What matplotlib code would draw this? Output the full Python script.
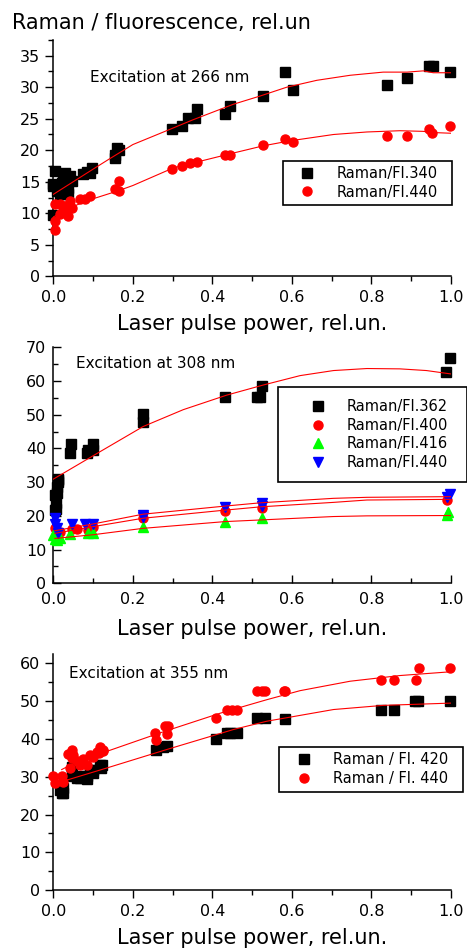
import matplotlib
matplotlib.use("Agg")
import matplotlib.pyplot as plt
from matplotlib.ticker import MultipleLocator

plt.rcParams['font.family'] = ['DejaVu Sans']

# --- panel 1: excitation at 266 nm ---
p1_fl340_x = [0.0, 0.004, 0.0, 0.0, 0.01, 0.017, 0.021, 0.025, 0.03, 0.038, 0.038, 0.042, 0.046,
              0.075, 0.085, 0.092, 0.097, 0.155, 0.155, 0.161, 0.164, 0.298, 0.324, 0.338, 0.357,
              0.361, 0.433, 0.445, 0.528, 0.583, 0.602, 0.839, 0.891, 0.945, 0.956, 0.998]
p1_fl340_y = [9.8, 16.7, 14.6, 14.3, 13.5, 13.0, 14.8, 15.8, 16.4, 14.0, 13.0, 15.9, 15.1,
              16.2, 16.5, 16.4, 17.2, 18.8, 19.3, 20.4, 20.1, 23.3, 23.9, 25.1, 25.1,
              26.5, 25.7, 27.0, 28.6, 32.4, 29.6, 30.4, 31.4, 33.4, 33.4, 32.4]
p1_fl440_x = [0.004, 0.004, 0.004, 0.017, 0.017, 0.025, 0.03, 0.034, 0.038, 0.042, 0.046,
              0.067, 0.08, 0.092, 0.155, 0.164, 0.164, 0.298, 0.323, 0.344, 0.361, 0.433,
              0.445, 0.528, 0.583, 0.602, 0.839, 0.891, 0.945, 0.954, 0.998]
p1_fl440_y = [11.4, 8.7, 7.4, 11.4, 9.9, 10.3, 11.1, 10.8, 9.5, 11.9, 10.8,
              12.2, 12.3, 12.7, 13.8, 13.6, 15.1, 17.1, 17.5, 18.0, 18.1, 19.3,
              19.3, 20.8, 21.8, 21.3, 22.3, 22.3, 23.3, 22.8, 23.9]
p1_fit340_x = [0.0, 0.05, 0.1, 0.143, 0.2, 0.285, 0.35, 0.453, 0.52, 0.587, 0.663, 0.747,
               0.83, 0.89, 0.931, 0.956, 1.0]
p1_fit340_y = [13.0, 15.0, 17.0, 18.7, 20.9, 23.1, 24.8, 27.3, 28.6, 30.0, 31.1, 31.9,
               32.4, 32.4, 32.6, 32.3, 32.3]
p1_fit440_x = [0.0, 0.02, 0.05, 0.1, 0.16, 0.2, 0.302, 0.436, 0.528, 0.596, 0.705, 0.789,
               0.872, 0.93, 0.96, 1.0]
p1_fit440_y = [9.4, 10.2, 11.1, 12.3, 13.5, 14.4, 17.2, 19.3, 20.7, 21.5, 22.5, 22.9,
               23.1, 23.0, 22.8, 22.7]

# --- panel 2: excitation at 308 nm ---
p2_fl362_x = [0.004, 0.004, 0.006, 0.007, 0.008, 0.010, 0.013, 0.013, 0.013, 0.042, 0.044,
              0.084, 0.086, 0.101, 0.101, 0.225, 0.226, 0.432, 0.512, 0.520, 0.524, 0.988, 0.998]
p2_fl362_y = [21.7, 26.2, 23.8, 22.0, 26.7, 28.7, 30.1, 30.6, 31.0, 38.6, 41.2,
              38.6, 39.5, 41.2, 39.5, 47.9, 50.1, 55.4, 55.4, 55.4, 58.6, 62.6, 66.7]
p2_fl400_x = [0.004, 0.013, 0.017, 0.046, 0.059, 0.086, 0.101, 0.226, 0.432, 0.524, 0.99]
p2_fl400_y = [16.3, 15.0, 15.3, 16.0, 16.0, 15.9, 16.8, 19.3, 21.5, 22.4, 24.7]
p2_fl416_x = [0.0, 0.004, 0.008, 0.017, 0.042, 0.086, 0.101, 0.226, 0.432, 0.524, 0.99, 0.994]
p2_fl416_y = [14.2, 13.0, 12.8, 13.3, 14.6, 14.8, 14.8, 16.8, 18.3, 19.3, 20.2, 21.1]
p2_fl440_x = [0.004, 0.004, 0.008, 0.013, 0.046, 0.08, 0.101, 0.226, 0.226, 0.432, 0.524,
              0.524, 0.99, 0.998]
p2_fl440_y = [19.3, 17.6, 16.3, 14.8, 17.6, 17.6, 17.5, 20.3, 19.8, 22.7, 23.7,
              22.8, 25.5, 26.5]
p2_fit362_x = [0.0, 0.117, 0.226, 0.327, 0.436, 0.528, 0.621, 0.705, 0.789, 0.872, 0.939, 1.0]
p2_fit362_y = [30.9, 39.0, 46.5, 51.5, 55.8, 58.8, 61.6, 63.1, 63.7, 63.6, 63.1, 62.1]
p2_fit_x = [0.004, 0.1, 0.226, 0.432, 0.524, 0.705, 0.789, 1.0]
p2_fit400_y = [14.8, 16.8, 19.3, 21.7, 22.7, 24.0, 24.7, 24.9]
p2_fit416_y = [13.3, 14.4, 16.3, 18.3, 18.8, 19.8, 20.0, 20.1]
p2_fit440_y = [15.6, 17.6, 20.5, 22.9, 23.9, 25.2, 25.5, 25.7]

# --- panel 3: excitation at 355 nm ---
p3_fl420_x = [0.017, 0.021, 0.025, 0.025, 0.046, 0.046, 0.059, 0.067, 0.067, 0.084, 0.084,
              0.092, 0.1, 0.101, 0.117, 0.12, 0.122, 0.258, 0.277, 0.285, 0.409, 0.437,
              0.445, 0.461, 0.512, 0.533, 0.583, 0.824, 0.857, 0.91, 0.918, 0.998]
p3_fl420_y = [26.5, 25.7, 27.0, 25.7, 32.7, 30.1, 29.6, 29.6, 30.1, 30.1, 29.5,
              31.9, 31.0, 31.9, 33.2, 32.3, 33.2, 37.2, 38.0, 38.2, 40.0, 41.6,
              41.6, 41.6, 45.6, 45.6, 45.4, 47.6, 47.6, 50.0, 50.0, 50.0]
p3_fl440_x = [0.0, 0.004, 0.021, 0.025, 0.038, 0.042, 0.046, 0.046, 0.05, 0.059, 0.067,
              0.071, 0.075, 0.084, 0.092, 0.097, 0.1, 0.11, 0.114, 0.117, 0.125, 0.126,
              0.256, 0.258, 0.282, 0.285, 0.288, 0.409, 0.437, 0.45, 0.461, 0.512, 0.524,
              0.533, 0.58, 0.583, 0.824, 0.857, 0.913, 0.921, 0.998]
p3_fl440_y = [30.1, 28.3, 30.1, 28.7, 36.0, 32.3, 35.0, 37.2, 35.8, 34.1, 33.2,
              34.1, 34.7, 33.0, 35.8, 35.4, 35.2, 36.5, 36.3, 38.0, 37.0, 36.7,
              41.6, 39.8, 43.4, 41.3, 43.4, 45.6, 47.6, 47.6, 47.6, 52.6, 52.6,
              52.6, 52.8, 52.8, 55.6, 55.6, 55.6, 58.9, 58.9]
p3_fit420_x = [0.021, 0.134, 0.285, 0.453, 0.537, 0.705, 0.83, 1.0]
p3_fit420_y = [28.7, 32.3, 37.2, 42.5, 44.7, 47.8, 48.9, 49.5]
p3_fit440_x = [0.021, 0.06, 0.134, 0.268, 0.419, 0.537, 0.621, 0.747, 0.872, 1.0]
p3_fit440_y = [31.9, 34.0, 36.7, 41.6, 46.8, 50.4, 52.8, 55.3, 56.8, 57.8]

XLABEL = 'Laser pulse power, rel.un.'
MS = 6.5


def style_axis(ax, ymax, ymajor, yminor, direction, xpad, ypad):
    ax.spines['top'].set_visible(False)
    ax.spines['right'].set_visible(False)
    ax.spines['left'].set_linewidth(1.1)
    ax.spines['bottom'].set_linewidth(1.1)
    ax.set_xlim(0, 1.0)
    ax.set_ylim(0, ymax)
    ax.xaxis.set_major_locator(MultipleLocator(0.2))
    ax.xaxis.set_minor_locator(MultipleLocator(0.1))
    ax.yaxis.set_major_locator(MultipleLocator(ymajor))
    ax.yaxis.set_minor_locator(MultipleLocator(yminor))
    ax.tick_params(which='major', direction=direction, length=6, width=1.0, labelsize=11.5)
    ax.tick_params(which='minor', direction=direction, length=3.5, width=1.0)
    ax.tick_params(axis='x', which='major', pad=xpad)
    ax.tick_params(axis='y', which='major', pad=ypad)
    ax.xaxis.set_major_formatter(plt.FuncFormatter(lambda v, p: f'{v:.1f}'))
    ax.set_xlabel(XLABEL, fontsize=15)


def add_legend(ax, x0, top, w, pad, hlen, tpad):
    leg = ax.legend(loc='upper left', bbox_to_anchor=(x0, top, w, 0), mode='expand',
                    fontsize=10.5, frameon=True, fancybox=False, edgecolor='black',
                    framealpha=1, borderpad=pad, labelspacing=0.25, handlelength=hlen,
                    handletextpad=tpad, borderaxespad=0, numpoints=1)
    leg.get_frame().set_linewidth(1.2)


def markers(ax, x, y, marker, color, label):
    ax.plot(x, y, linestyle='none', marker=marker, ms=MS + (0.8 if marker in '^v' else 0),
            color=color, mec=color, label=label, clip_on=False, zorder=3)


def fit(ax, x, y):
    ax.plot(x, y, color='red', lw=0.8, zorder=4)


fig = plt.figure(figsize=(4.67, 9.52), dpi=100)
ax1 = fig.add_axes([0.1142, 0.7098, 0.851, 0.2482])
ax2 = fig.add_axes([0.1142, 0.3873, 0.851, 0.2479])
ax3 = fig.add_axes([0.1142, 0.0651, 0.851, 0.2479])

fig.text(0.025, 0.9692, 'Raman / fluorescence, rel.un', fontsize=15, va='baseline')

# panel 1
markers(ax1, p1_fl340_x, p1_fl340_y, 's', 'black', 'Raman/Fl.340')
markers(ax1, p1_fl440_x, p1_fl440_y, 'o', 'red', 'Raman/Fl.440')
fit(ax1, p1_fit340_x, p1_fit340_y)
fit(ax1, p1_fit440_x, p1_fit440_y)
style_axis(ax1, 37.5, 5, 2.5, 'out', 4, 3.5)
ax1.xaxis.set_label_coords(0.5, -0.16)
ax1.text(0.092, 0.843, 'Excitation at 266 nm', transform=ax1.transAxes, fontsize=11, va='center')
add_legend(ax1, 0.579, 0.488, 0.424, 0.34, 2.5, 0.83)

# panel 2
markers(ax2, p2_fl362_x, p2_fl362_y, 's', 'black', 'Raman/Fl.362')
markers(ax2, p2_fl400_x, p2_fl400_y, 'o', 'red', 'Raman/Fl.400')
markers(ax2, p2_fl416_x, p2_fl416_y, '^', '#00ff00', 'Raman/Fl.416')
markers(ax2, p2_fl440_x, p2_fl440_y, 'v', 'blue', 'Raman/Fl.440')
fit(ax2, p2_fit362_x, p2_fit362_y)
fit(ax2, p2_fit_x, p2_fit400_y)
fit(ax2, p2_fit_x, p2_fit416_y)
fit(ax2, p2_fit_x, p2_fit440_y)
style_axis(ax2, 70, 10, 5, 'in', 6, 5)
ax2.xaxis.set_label_coords(0.5, -0.152)
ax2.text(0.057, 0.932, 'Excitation at 308 nm', transform=ax2.transAxes, fontsize=11, va='center')
add_legend(ax2, 0.5647, 0.833, 0.4756, 0.85, 3.8, 0.1)

# panel 3
markers(ax3, p3_fl420_x, p3_fl420_y, 's', 'black', 'Raman / Fl. 420')
markers(ax3, p3_fl440_x, p3_fl440_y, 'o', 'red', 'Raman / Fl. 440')
fit(ax3, p3_fit420_x, p3_fit420_y)
fit(ax3, p3_fit440_x, p3_fit440_y)
style_axis(ax3, 62.5, 10, 5, 'out', 4, 3.5)
ax3.xaxis.set_label_coords(0.5, -0.16)
ax3.text(0.0395, 0.918, 'Excitation at 355 nm', transform=ax3.transAxes, fontsize=11, va='center')
add_legend(ax3, 0.5687, 0.607, 0.463, 0.38, 2.65, 0.67)

fig.savefig('out.png', dpi=100)
